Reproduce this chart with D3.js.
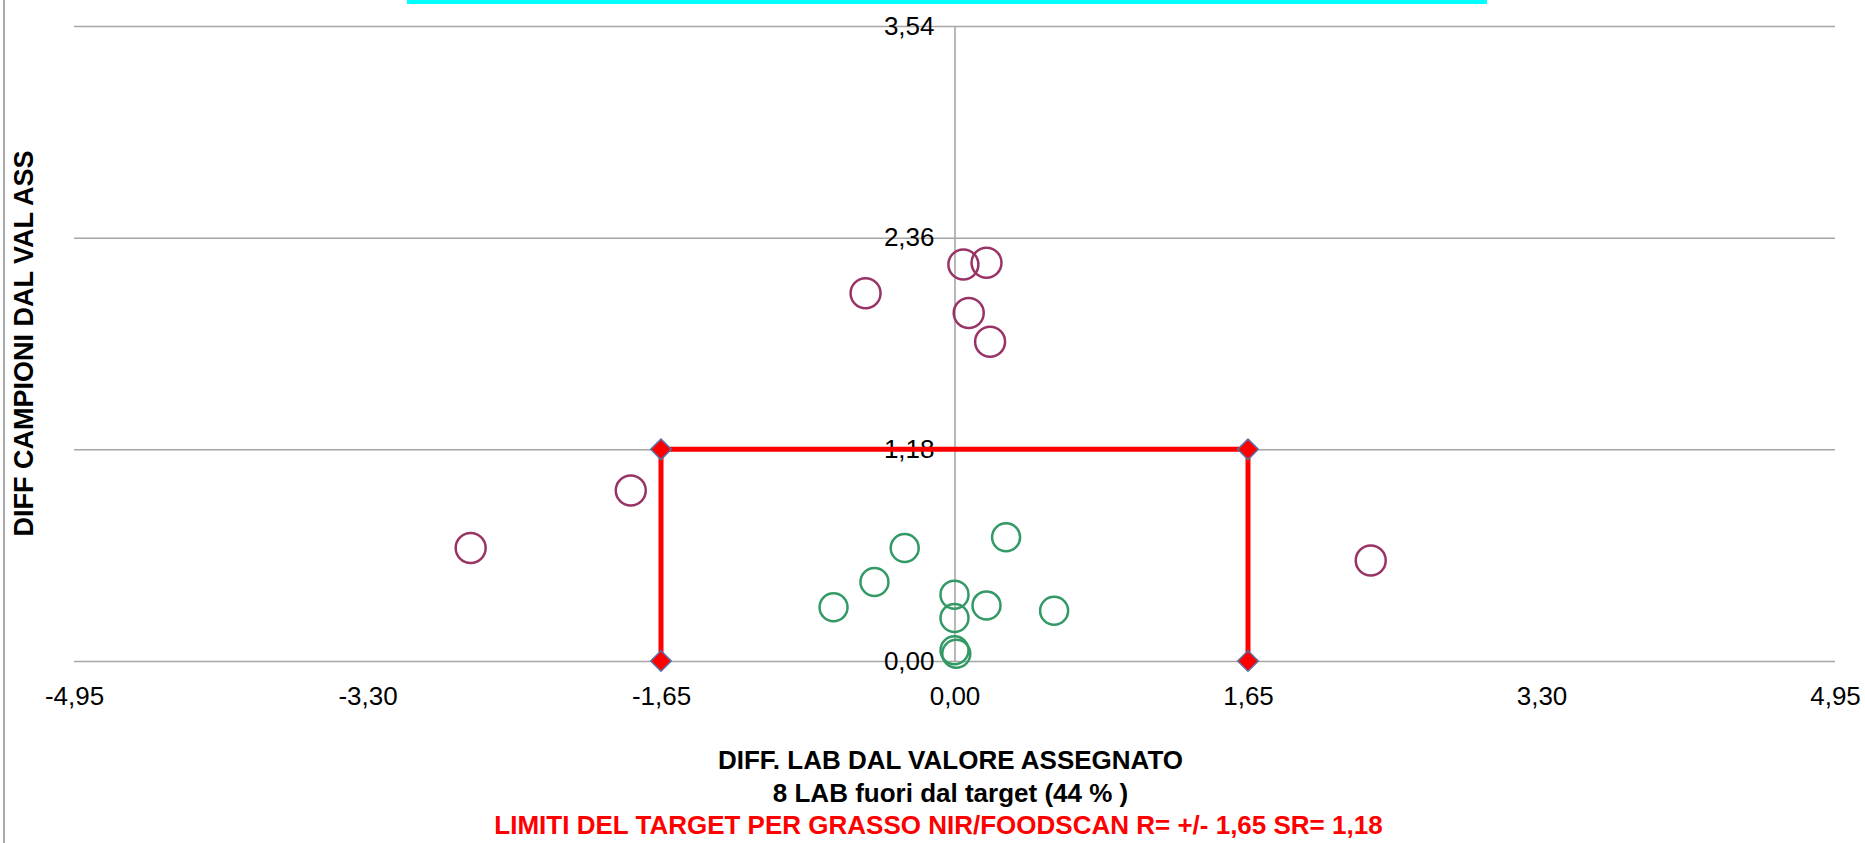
<!DOCTYPE html>
<html>
<head>
<meta charset="utf-8">
<script src="https://cdn.jsdelivr.net/npm/d3@7"></script>
<style>
  html, body { margin: 0; padding: 0; background: #fff; }
  #chart-area { width: 1865px; height: 843px; }
  text { font-family: "Liberation Sans", Arial, sans-serif; }
</style>
</head>
<body>
<div id="chart-area"></div>
<script>
// labs outside the target (maroon)
var outX = [-2.72, -1.82, 2.34, -0.50, 0.05, 0.18, 0.08, 0.20];
var outY = [0.63, 0.95, 0.56, 2.05, 2.21, 2.22, 1.94, 1.78];

// labs inside the target (green)
var inX = [-0.68, -0.45, -0.28, 0.29, 0.00, 0.18, 0.56, 0.00, 0.00, 0.01];
var inY = [0.30, 0.44, 0.63, 0.69, 0.37, 0.31, 0.28, 0.24, 0.06, 0.04];

// target limits R = +/- 1,65  SR = 1,18
var limitX = [-1.65, -1.65, 1.65, 1.65];
var limitY = [0, 1.18, 1.18, 0];

var xTicks = [-4.95, -3.30, -1.65, 0, 1.65, 3.30, 4.95];
var yTicks = [0, 1.18, 2.36, 3.54];

var xTitle = "DIFF. LAB DAL VALORE ASSEGNATO";
var subTitle = "8 LAB fuori dal target (44 % )";
var limitTitle = "LIMITI DEL TARGET PER GRASSO NIR/FOODSCAN R= +/- 1,65 SR= 1,18";
var yTitle = "DIFF CAMPIONI DAL VAL ASS";

var itLocale = d3.formatLocale({ decimal: ",", thousands: ".", grouping: [3], currency: ["", "€"], minus: "-" });
var formatNum = itLocale.format(".2f");

ScatterChart = function(_parentElement){
    this.parentElement = _parentElement;
    this.initVis();
};

ScatterChart.prototype.initVis = function(){
    var vis = this;

    vis.margin = { left: 74, right: 30, top: 26, bottom: 182 };
    vis.width = 1865 - vis.margin.left - vis.margin.right;
    vis.height = 843 - vis.margin.top - vis.margin.bottom;

    vis.svg = d3.select(vis.parentElement)
        .append("svg")
        .attr("width", 1865)
        .attr("height", 843);

    // outer frame line on the left + cyan strip on top
    vis.svg.append("line")
        .attr("x1", 4).attr("x2", 4)
        .attr("y1", 0).attr("y2", 843)
        .attr("stroke", "#8c8c8c")
        .attr("stroke-width", 1.5);
    vis.svg.append("rect")
        .attr("x", 407).attr("y", 0)
        .attr("width", 1080).attr("height", 4)
        .attr("fill", "#00ffff");

    vis.g = vis.svg.append("g")
        .attr("transform", "translate(" + vis.margin.left + ", " + vis.margin.top + ")");

    // Scales
    vis.x = d3.scaleLinear().domain([-4.95, 4.95]).range([0, vis.width]);
    vis.y = d3.scaleLinear().domain([0, 3.54]).range([vis.height, 0]);

    // horizontal gridlines
    var grid = vis.g.append("g")
        .attr("class", "grid")
        .call(d3.axisLeft(vis.y).tickValues(yTicks).tickSize(-vis.width).tickFormat(""));
    grid.select(".domain").remove();
    grid.selectAll("line").attr("stroke", "#a6a6a6").attr("stroke-width", 1.5);

    // X axis labels (under the plot)
    var xAxis = vis.g.append("g")
        .attr("class", "x axis")
        .attr("transform", "translate(0," + vis.height + ")")
        .call(d3.axisBottom(vis.x).tickValues(xTicks).tickSize(0).tickPadding(26).tickFormat(formatNum));
    xAxis.select(".domain").remove();
    xAxis.selectAll("text")
        .attr("font-family", "Liberation Sans, Arial, sans-serif")
        .attr("font-size", "26px")
        .attr("fill", "#000");

    // Y axis at x = 0
    var yAxis = vis.g.append("g")
        .attr("class", "y axis")
        .attr("transform", "translate(" + vis.x(0) + ",0)")
        .call(d3.axisLeft(vis.y).tickValues(yTicks).tickSize(0).tickSizeOuter(0).tickPadding(20).tickFormat(formatNum));
    yAxis.select(".domain").attr("stroke", "#a0a0a0").attr("stroke-width", 1.5);
    yAxis.selectAll("text")
        .attr("font-family", "Liberation Sans, Arial, sans-serif")
        .attr("font-size", "26px")
        .attr("fill", "#000");

    // target box
    var limitData = limitX.map(function(d, i){ return { x: d, y: limitY[i] }; });
    vis.line = d3.line()
        .x(function(d){ return vis.x(d.x); })
        .y(function(d){ return vis.y(d.y); });
    vis.g.append("path")
        .attr("class", "line")
        .attr("fill", "none")
        .attr("stroke", "#ff0000")
        .attr("stroke-width", 5)
        .attr("d", vis.line(limitData));

    vis.g.selectAll(".corner")
        .data(limitData)
        .enter().append("path")
        .attr("class", "corner")
        .attr("transform", function(d){ return "translate(" + vis.x(d.x) + "," + vis.y(d.y) + ") rotate(45)"; })
        .attr("d", d3.symbol().type(d3.symbolSquare).size(210))
        .attr("fill", "#ff0000")
        .attr("stroke", "#5b6fa6")
        .attr("stroke-width", 1.5);

    // points
    var inData = inX.map(function(d, i){ return { x: d, y: inY[i] }; });
    var outData = outX.map(function(d, i){ return { x: d, y: outY[i] }; });

    vis.g.selectAll(".in-pt")
        .data(inData)
        .enter().append("circle")
        .attr("class", "in-pt")
        .attr("cx", function(d){ return vis.x(d.x); })
        .attr("cy", function(d){ return vis.y(d.y); })
        .attr("r", 14)
        .attr("fill", "none")
        .attr("stroke", "#339966")
        .attr("stroke-width", 2.5);

    vis.g.selectAll(".out-pt")
        .data(outData)
        .enter().append("circle")
        .attr("class", "out-pt")
        .attr("cx", function(d){ return vis.x(d.x); })
        .attr("cy", function(d){ return vis.y(d.y); })
        .attr("r", 15)
        .attr("fill", "none")
        .attr("stroke", "#993366")
        .attr("stroke-width", 2.5);

    // Y-Axis label
    vis.g.append("text")
        .attr("class", "y axisLabel")
        .attr("transform", "rotate(-90)")
        .attr("y", -41)
        .attr("x", -vis.height / 2)
        .attr("font-size", "27px")
        .attr("font-weight", "bold")
        .attr("text-anchor", "middle")
        .text(yTitle);

    // X-Axis labels
    var cx = vis.x(0) - 4;
    vis.g.append("text")
        .attr("class", "x axisLabel")
        .attr("x", cx).attr("y", 769 - vis.margin.top)
        .attr("font-size", "26px").attr("font-weight", "bold")
        .attr("text-anchor", "middle")
        .text(xTitle);
    vis.g.append("text")
        .attr("x", cx).attr("y", 802 - vis.margin.top)
        .attr("font-size", "26px").attr("font-weight", "bold")
        .attr("text-anchor", "middle")
        .text(subTitle);
    vis.g.append("text")
        .attr("x", cx - 12).attr("y", 834 - vis.margin.top)
        .attr("font-size", "26px").attr("font-weight", "bold")
        .attr("text-anchor", "middle")
        .attr("fill", "#ff0000")
        .text(limitTitle);
};

new ScatterChart("#chart-area");
</script>
</body>
</html>
